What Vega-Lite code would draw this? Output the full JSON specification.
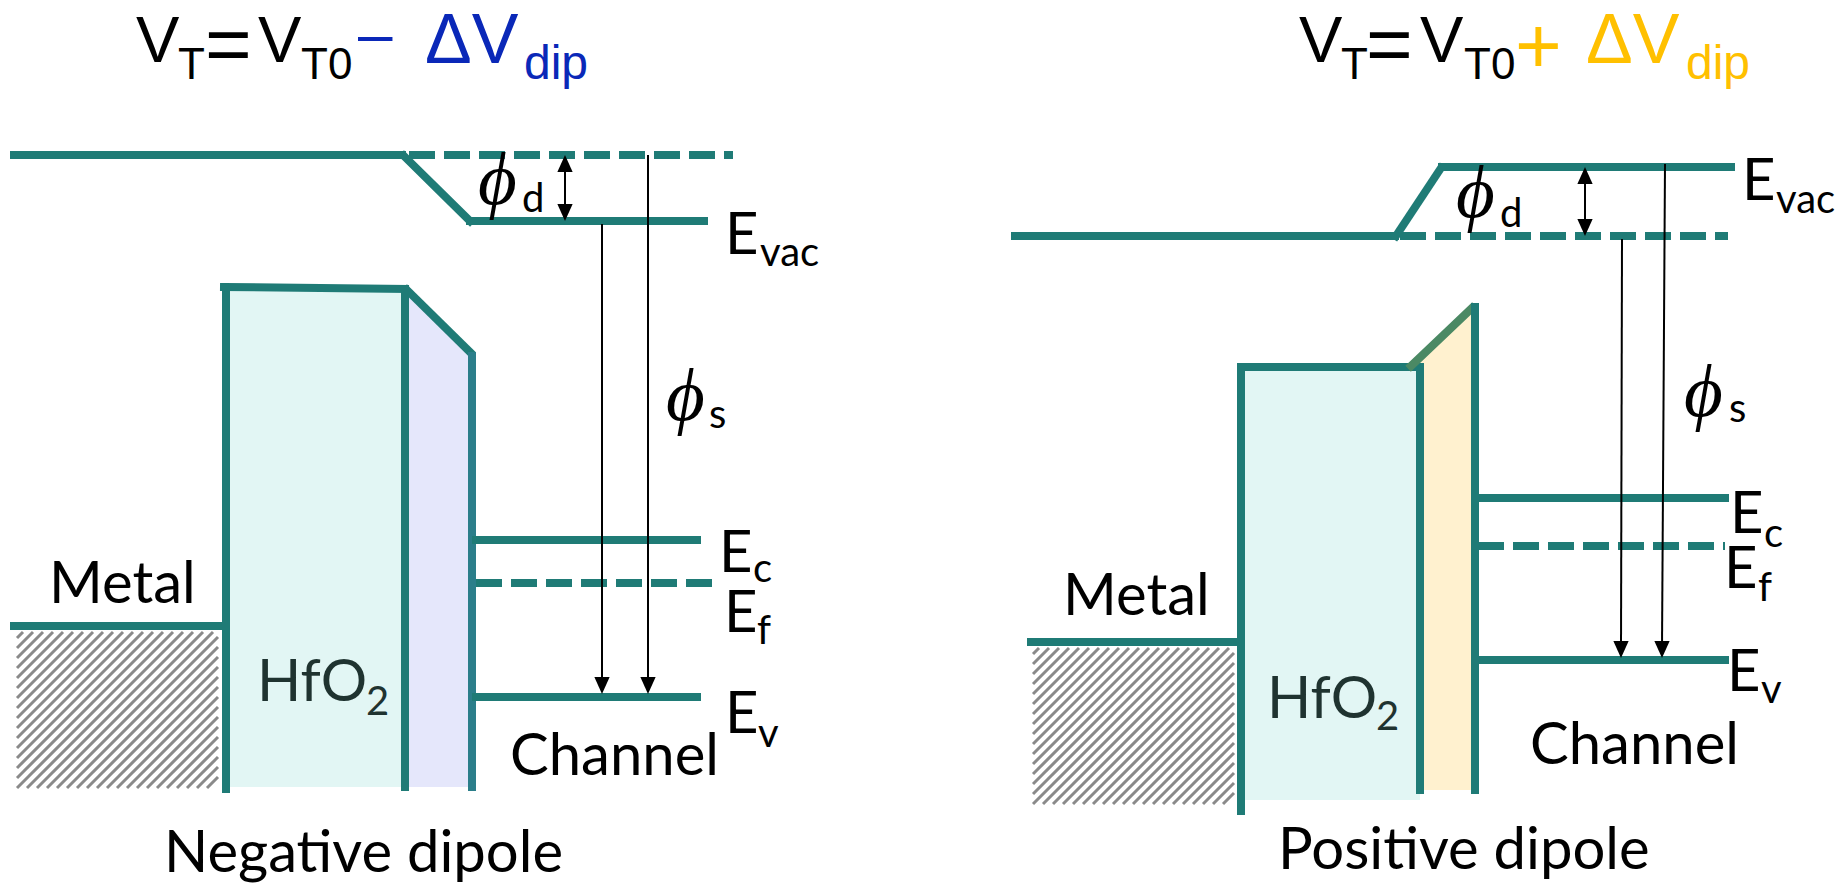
{
  "$schema": "https://vega.github.io/schema/vega-lite/v6.json",
  "width": 1840,
  "height": 884,
  "autosize": {"type": "fit", "contains": "padding"},
  "padding": 0,
  "background": "white",
  "config": {"view": {"stroke": null}},
  "resolve": {"scale": {"color": "independent"}},
  "datasets": {
    "boxes": [
      {"x": 226, "x2": 405, "y": 289, "y2": 787},
      {"x": 1241, "x2": 1420, "y": 367, "y2": 800}
    ],
    "lav": [
      {"x": 405, "y": 291, "y2": 787},
      {"x": 472, "y": 354, "y2": 787}
    ],
    "yel": [
      {"x": 1420, "y": 358, "y2": 790},
      {"x": 1475, "y": 305, "y2": 790}
    ],
    "hatch": [
      {"x": 17, "y": 638, "x2": 23, "y2": 632},
      {"x": 17, "y": 648, "x2": 33, "y2": 632},
      {"x": 17, "y": 658, "x2": 43, "y2": 632},
      {"x": 17, "y": 668, "x2": 53, "y2": 632},
      {"x": 17, "y": 678, "x2": 63, "y2": 632},
      {"x": 17, "y": 688, "x2": 73, "y2": 632},
      {"x": 17, "y": 698, "x2": 83, "y2": 632},
      {"x": 17, "y": 708, "x2": 93, "y2": 632},
      {"x": 17, "y": 718, "x2": 103, "y2": 632},
      {"x": 17, "y": 728, "x2": 113, "y2": 632},
      {"x": 17, "y": 738, "x2": 123, "y2": 632},
      {"x": 17, "y": 748, "x2": 133, "y2": 632},
      {"x": 17, "y": 758, "x2": 143, "y2": 632},
      {"x": 17, "y": 768, "x2": 153, "y2": 632},
      {"x": 17, "y": 778, "x2": 163, "y2": 632},
      {"x": 17, "y": 788, "x2": 173, "y2": 632},
      {"x": 27, "y": 788, "x2": 183, "y2": 632},
      {"x": 37, "y": 788, "x2": 193, "y2": 632},
      {"x": 47, "y": 788, "x2": 203, "y2": 632},
      {"x": 57, "y": 788, "x2": 213, "y2": 632},
      {"x": 67, "y": 788, "x2": 218, "y2": 637},
      {"x": 77, "y": 788, "x2": 218, "y2": 647},
      {"x": 87, "y": 788, "x2": 218, "y2": 657},
      {"x": 97, "y": 788, "x2": 218, "y2": 667},
      {"x": 107, "y": 788, "x2": 218, "y2": 677},
      {"x": 117, "y": 788, "x2": 218, "y2": 687},
      {"x": 127, "y": 788, "x2": 218, "y2": 697},
      {"x": 137, "y": 788, "x2": 218, "y2": 707},
      {"x": 147, "y": 788, "x2": 218, "y2": 717},
      {"x": 157, "y": 788, "x2": 218, "y2": 727},
      {"x": 167, "y": 788, "x2": 218, "y2": 737},
      {"x": 177, "y": 788, "x2": 218, "y2": 747},
      {"x": 187, "y": 788, "x2": 218, "y2": 757},
      {"x": 197, "y": 788, "x2": 218, "y2": 767},
      {"x": 207, "y": 788, "x2": 218, "y2": 777},
      {"x": 1033, "y": 654, "x2": 1039, "y2": 648},
      {"x": 1033, "y": 664, "x2": 1049, "y2": 648},
      {"x": 1033, "y": 674, "x2": 1059, "y2": 648},
      {"x": 1033, "y": 684, "x2": 1069, "y2": 648},
      {"x": 1033, "y": 694, "x2": 1079, "y2": 648},
      {"x": 1033, "y": 704, "x2": 1089, "y2": 648},
      {"x": 1033, "y": 714, "x2": 1099, "y2": 648},
      {"x": 1033, "y": 724, "x2": 1109, "y2": 648},
      {"x": 1033, "y": 734, "x2": 1119, "y2": 648},
      {"x": 1033, "y": 744, "x2": 1129, "y2": 648},
      {"x": 1033, "y": 754, "x2": 1139, "y2": 648},
      {"x": 1033, "y": 764, "x2": 1149, "y2": 648},
      {"x": 1033, "y": 774, "x2": 1159, "y2": 648},
      {"x": 1033, "y": 784, "x2": 1169, "y2": 648},
      {"x": 1033, "y": 794, "x2": 1179, "y2": 648},
      {"x": 1033, "y": 804, "x2": 1189, "y2": 648},
      {"x": 1043, "y": 804, "x2": 1199, "y2": 648},
      {"x": 1053, "y": 804, "x2": 1209, "y2": 648},
      {"x": 1063, "y": 804, "x2": 1219, "y2": 648},
      {"x": 1073, "y": 804, "x2": 1229, "y2": 648},
      {"x": 1083, "y": 804, "x2": 1234, "y2": 653},
      {"x": 1093, "y": 804, "x2": 1234, "y2": 663},
      {"x": 1103, "y": 804, "x2": 1234, "y2": 673},
      {"x": 1113, "y": 804, "x2": 1234, "y2": 683},
      {"x": 1123, "y": 804, "x2": 1234, "y2": 693},
      {"x": 1133, "y": 804, "x2": 1234, "y2": 703},
      {"x": 1143, "y": 804, "x2": 1234, "y2": 713},
      {"x": 1153, "y": 804, "x2": 1234, "y2": 723},
      {"x": 1163, "y": 804, "x2": 1234, "y2": 733},
      {"x": 1173, "y": 804, "x2": 1234, "y2": 743},
      {"x": 1183, "y": 804, "x2": 1234, "y2": 753},
      {"x": 1193, "y": 804, "x2": 1234, "y2": 763},
      {"x": 1203, "y": 804, "x2": 1234, "y2": 773},
      {"x": 1213, "y": 804, "x2": 1234, "y2": 783},
      {"x": 1223, "y": 804, "x2": 1234, "y2": 793}
    ],
    "solid": [
      {"x": 14, "y": 155, "x2": 402, "y2": 155, "part": "band"},
      {"x": 404, "y": 156, "x2": 470, "y2": 221, "part": "band"},
      {"x": 470, "y": 221, "x2": 704, "y2": 221, "part": "band"},
      {"x": 14, "y": 626, "x2": 224, "y2": 626, "part": "band"},
      {"x": 226, "y": 289, "x2": 226, "y2": 789, "part": "band"},
      {"x": 224, "y": 287, "x2": 405, "y2": 289, "part": "band"},
      {"x": 405, "y": 289, "x2": 405, "y2": 787, "part": "band"},
      {"x": 407, "y": 290, "x2": 470, "y2": 352, "part": "band"},
      {"x": 472, "y": 356, "x2": 472, "y2": 787, "part": "edge"},
      {"x": 476, "y": 540, "x2": 697, "y2": 540, "part": "band"},
      {"x": 476, "y": 697, "x2": 697, "y2": 697, "part": "band"},
      {"x": 1015, "y": 236, "x2": 1395, "y2": 236, "part": "band"},
      {"x": 1396, "y": 236, "x2": 1441, "y2": 168, "part": "band"},
      {"x": 1442, "y": 167, "x2": 1731, "y2": 167, "part": "band"},
      {"x": 1031, "y": 642, "x2": 1239, "y2": 642, "part": "band"},
      {"x": 1241, "y": 367, "x2": 1241, "y2": 811, "part": "band"},
      {"x": 1241, "y": 367, "x2": 1420, "y2": 367, "part": "band"},
      {"x": 1420, "y": 367, "x2": 1420, "y2": 790, "part": "band"},
      {"x": 1411, "y": 366, "x2": 1472, "y2": 308, "part": "blend"},
      {"x": 1475, "y": 307, "x2": 1475, "y2": 790, "part": "band"},
      {"x": 1478, "y": 498, "x2": 1725, "y2": 498, "part": "band"},
      {"x": 1478, "y": 660, "x2": 1725, "y2": 660, "part": "band"}
    ],
    "dashed": [
      {"x": 409, "y": 155, "x2": 733, "y2": 155},
      {"x": 476, "y": 583, "x2": 717, "y2": 583},
      {"x": 1400, "y": 236, "x2": 1728, "y2": 236},
      {"x": 1478, "y": 546, "x2": 1725, "y2": 546}
    ],
    "arrows": [
      {"x": 602, "y": 224, "x2": 602, "y2": 684},
      {"x": 648, "y": 155, "x2": 648, "y2": 684},
      {"x": 565, "y": 165, "x2": 565, "y2": 211},
      {"x": 1622, "y": 239, "x2": 1621, "y2": 648},
      {"x": 1665, "y": 164, "x2": 1662, "y2": 648},
      {"x": 1585, "y": 177, "x2": 1585, "y2": 226}
    ],
    "headsDown": [
      {"x": 602, "y": 685.5},
      {"x": 648, "y": 685.5},
      {"x": 565, "y": 212.5},
      {"x": 1621, "y": 649.5},
      {"x": 1662, "y": 649.5},
      {"x": 1585, "y": 227.5}
    ],
    "headsUp": [
      {"x": 565, "y": 163.5},
      {"x": 1585, "y": 175.5}
    ],
    "titleV": [
      {"t": "V", "x": 136, "y": 62},
      {"t": "V", "x": 258, "y": 62},
      {"t": "V", "x": 1299, "y": 62},
      {"t": "V", "x": 1420, "y": 62}
    ],
    "titleT": [
      {"t": "T", "x": 178, "y": 79},
      {"t": "T0", "x": 301, "y": 79},
      {"t": "T", "x": 1341, "y": 79},
      {"t": "T0", "x": 1464, "y": 79}
    ],
    "titleOps": [
      {"t": "=", "x": 205, "y": 71, "k": "base"},
      {"t": "=", "x": 1366, "y": 71, "k": "base"},
      {"t": "+", "x": 1515, "y": 73, "k": "pos"}
    ],
    "titleDash": [
      {"t": "–", "x": 358, "y": 55}
    ],
    "titleDelta": [
      {"t": "ΔV", "x": 425, "y": 63, "k": "neg"},
      {"t": "ΔV", "x": 1586, "y": 63, "k": "pos"}
    ],
    "titleDip": [
      {"t": "dip", "x": 524, "y": 79, "k": "neg"},
      {"t": "dip", "x": 1686, "y": 79, "k": "pos"}
    ],
    "labels": [
      {"t": "Metal", "x": 49, "y": 603},
      {"t": "Channel", "x": 510, "y": 775},
      {"t": "Negative dipole", "x": 164, "y": 872},
      {"t": "E", "x": 725, "y": 254},
      {"t": "E", "x": 719, "y": 572},
      {"t": "E", "x": 724, "y": 632},
      {"t": "E", "x": 725, "y": 733},
      {"t": "Metal", "x": 1063, "y": 615},
      {"t": "Channel", "x": 1530, "y": 764},
      {"t": "Positive dipole", "x": 1278, "y": 869},
      {"t": "E", "x": 1742, "y": 200},
      {"t": "E", "x": 1730, "y": 533},
      {"t": "E", "x": 1724, "y": 588},
      {"t": "E", "x": 1727, "y": 691}
    ],
    "subs": [
      {"t": "vac", "x": 760, "y": 266},
      {"t": "c", "x": 753, "y": 582},
      {"t": "f", "x": 757, "y": 644},
      {"t": "v", "x": 758, "y": 747},
      {"t": "d", "x": 522, "y": 212},
      {"t": "s", "x": 709, "y": 428},
      {"t": "vac", "x": 1776, "y": 213},
      {"t": "c", "x": 1764, "y": 547},
      {"t": "f", "x": 1758, "y": 601},
      {"t": "v", "x": 1761, "y": 703},
      {"t": "d", "x": 1500, "y": 227},
      {"t": "s", "x": 1729, "y": 422}
    ],
    "oxide": [
      {"t": "HfO", "x": 257, "y": 701},
      {"t": "HfO", "x": 1267, "y": 718}
    ],
    "oxideSub": [
      {"t": "2", "x": 366, "y": 715},
      {"t": "2", "x": 1376, "y": 730}
    ],
    "phi": [
      {"t": "ϕ", "x": 478, "y": 204},
      {"t": "ϕ", "x": 1456, "y": 217},
      {"t": "ϕ", "x": 666, "y": 420},
      {"t": "ϕ", "x": 1684, "y": 416}
    ]
  },
  "layer": [
    {
      "data": {"name": "boxes"},
      "mark": {"type": "rect", "color": "#E2F6F4"},
      "encoding": {
        "x": {"field": "x", "type": "quantitative", "scale": {"domain": [0, 1840], "nice": false, "zero": false}, "axis": null},
        "x2": {"field": "x2"},
        "y": {"field": "y", "type": "quantitative", "scale": {"domain": [0, 884], "nice": false, "zero": false, "reverse": true}, "axis": null},
        "y2": {"field": "y2"}
      }
    },
    {
      "data": {"name": "lav"},
      "mark": {"type": "area", "color": "#E5E7FB", "orient": "vertical"},
      "encoding": {
        "x": {"field": "x", "type": "quantitative", "scale": {"domain": [0, 1840], "nice": false, "zero": false}, "axis": null},
        "y": {"field": "y", "type": "quantitative", "scale": {"domain": [0, 884], "nice": false, "zero": false, "reverse": true}, "axis": null},
        "y2": {"field": "y2"}
      }
    },
    {
      "data": {"name": "yel"},
      "mark": {"type": "area", "color": "#FFF1CF", "orient": "vertical"},
      "encoding": {
        "x": {"field": "x", "type": "quantitative", "scale": {"domain": [0, 1840], "nice": false, "zero": false}, "axis": null},
        "y": {"field": "y", "type": "quantitative", "scale": {"domain": [0, 884], "nice": false, "zero": false, "reverse": true}, "axis": null},
        "y2": {"field": "y2"}
      }
    },
    {
      "data": {"name": "hatch"},
      "mark": {"type": "rule", "color": "#8A8A8A", "strokeWidth": 3},
      "encoding": {
        "x": {"field": "x", "type": "quantitative", "scale": {"domain": [0, 1840], "nice": false, "zero": false}, "axis": null},
        "x2": {"field": "x2"},
        "y": {"field": "y", "type": "quantitative", "scale": {"domain": [0, 884], "nice": false, "zero": false, "reverse": true}, "axis": null},
        "y2": {"field": "y2"}
      }
    },
    {
      "data": {"name": "solid"},
      "mark": {"type": "rule", "strokeWidth": 8, "strokeCap": "square"},
      "encoding": {
        "x": {"field": "x", "type": "quantitative", "scale": {"domain": [0, 1840], "nice": false, "zero": false}, "axis": null},
        "x2": {"field": "x2"},
        "y": {"field": "y", "type": "quantitative", "scale": {"domain": [0, 884], "nice": false, "zero": false, "reverse": true}, "axis": null},
        "y2": {"field": "y2"},
        "color": {"field": "part", "type": "nominal", "scale": {"domain": ["band", "edge", "blend"], "range": ["#1F7B76", "#2B7E8A", "#4B8964"]}, "legend": null}
      }
    },
    {
      "data": {"name": "dashed"},
      "mark": {"type": "rule", "strokeWidth": 8, "strokeDash": [26, 9], "color": "#1F7B76"},
      "encoding": {
        "x": {"field": "x", "type": "quantitative", "scale": {"domain": [0, 1840], "nice": false, "zero": false}, "axis": null},
        "x2": {"field": "x2"},
        "y": {"field": "y", "type": "quantitative", "scale": {"domain": [0, 884], "nice": false, "zero": false, "reverse": true}, "axis": null},
        "y2": {"field": "y2"}
      }
    },
    {
      "data": {"name": "arrows"},
      "mark": {"type": "rule", "strokeWidth": 2, "color": "#000000"},
      "encoding": {
        "x": {"field": "x", "type": "quantitative", "scale": {"domain": [0, 1840], "nice": false, "zero": false}, "axis": null},
        "x2": {"field": "x2"},
        "y": {"field": "y", "type": "quantitative", "scale": {"domain": [0, 884], "nice": false, "zero": false, "reverse": true}, "axis": null},
        "y2": {"field": "y2"}
      }
    },
    {
      "data": {"name": "headsDown"},
      "mark": {"type": "point", "shape": "M-0.9,-1L0.9,-1L0,1Z", "size": 289, "filled": true, "opacity": 1, "color": "#000000", "strokeWidth": 0},
      "encoding": {
        "x": {"field": "x", "type": "quantitative", "scale": {"domain": [0, 1840], "nice": false, "zero": false}, "axis": null},
        "y": {"field": "y", "type": "quantitative", "scale": {"domain": [0, 884], "nice": false, "zero": false, "reverse": true}, "axis": null}
      }
    },
    {
      "data": {"name": "headsUp"},
      "mark": {"type": "point", "shape": "M-0.9,1L0.9,1L0,-1Z", "size": 289, "filled": true, "opacity": 1, "color": "#000000", "strokeWidth": 0},
      "encoding": {
        "x": {"field": "x", "type": "quantitative", "scale": {"domain": [0, 1840], "nice": false, "zero": false}, "axis": null},
        "y": {"field": "y", "type": "quantitative", "scale": {"domain": [0, 884], "nice": false, "zero": false, "reverse": true}, "axis": null}
      }
    },
    {
      "data": {"name": "titleV"},
      "mark": {"type": "text", "font": "Liberation Sans", "fontSize": 65, "align": "left", "baseline": "alphabetic", "color": "#000000"},
      "encoding": {
        "x": {"field": "x", "type": "quantitative", "scale": {"domain": [0, 1840], "nice": false, "zero": false}, "axis": null},
        "y": {"field": "y", "type": "quantitative", "scale": {"domain": [0, 884], "nice": false, "zero": false, "reverse": true}, "axis": null},
        "text": {"field": "t"}
      }
    },
    {
      "data": {"name": "titleT"},
      "mark": {"type": "text", "font": "Liberation Sans", "fontSize": 44, "align": "left", "baseline": "alphabetic", "color": "#000000"},
      "encoding": {
        "x": {"field": "x", "type": "quantitative", "scale": {"domain": [0, 1840], "nice": false, "zero": false}, "axis": null},
        "y": {"field": "y", "type": "quantitative", "scale": {"domain": [0, 884], "nice": false, "zero": false, "reverse": true}, "axis": null},
        "text": {"field": "t"}
      }
    },
    {
      "data": {"name": "titleOps"},
      "mark": {"type": "text", "font": "Liberation Sans", "fontSize": 80, "align": "left", "baseline": "alphabetic"},
      "encoding": {
        "x": {"field": "x", "type": "quantitative", "scale": {"domain": [0, 1840], "nice": false, "zero": false}, "axis": null},
        "y": {"field": "y", "type": "quantitative", "scale": {"domain": [0, 884], "nice": false, "zero": false, "reverse": true}, "axis": null},
        "text": {"field": "t"},
        "color": {"field": "k", "type": "nominal", "scale": {"domain": ["base", "pos"], "range": ["#000000", "#FFC000"]}, "legend": null}
      }
    },
    {
      "data": {"name": "titleDash"},
      "mark": {"type": "text", "font": "Liberation Sans", "fontSize": 62, "align": "left", "baseline": "alphabetic", "color": "#0A28B8"},
      "encoding": {
        "x": {"field": "x", "type": "quantitative", "scale": {"domain": [0, 1840], "nice": false, "zero": false}, "axis": null},
        "y": {"field": "y", "type": "quantitative", "scale": {"domain": [0, 884], "nice": false, "zero": false, "reverse": true}, "axis": null},
        "text": {"field": "t"}
      }
    },
    {
      "data": {"name": "titleDelta"},
      "mark": {"type": "text", "font": "Liberation Sans", "fontSize": 70, "align": "left", "baseline": "alphabetic"},
      "encoding": {
        "x": {"field": "x", "type": "quantitative", "scale": {"domain": [0, 1840], "nice": false, "zero": false}, "axis": null},
        "y": {"field": "y", "type": "quantitative", "scale": {"domain": [0, 884], "nice": false, "zero": false, "reverse": true}, "axis": null},
        "text": {"field": "t"},
        "color": {"field": "k", "type": "nominal", "scale": {"domain": ["neg", "pos"], "range": ["#0A28B8", "#FFC000"]}, "legend": null}
      }
    },
    {
      "data": {"name": "titleDip"},
      "mark": {"type": "text", "font": "Liberation Sans", "fontSize": 48, "align": "left", "baseline": "alphabetic"},
      "encoding": {
        "x": {"field": "x", "type": "quantitative", "scale": {"domain": [0, 1840], "nice": false, "zero": false}, "axis": null},
        "y": {"field": "y", "type": "quantitative", "scale": {"domain": [0, 884], "nice": false, "zero": false, "reverse": true}, "axis": null},
        "text": {"field": "t"},
        "color": {"field": "k", "type": "nominal", "scale": {"domain": ["neg", "pos"], "range": ["#0A28B8", "#FFC000"]}, "legend": null}
      }
    },
    {
      "data": {"name": "labels"},
      "mark": {"type": "text", "font": "Lato", "fontSize": 58, "align": "left", "baseline": "alphabetic", "color": "#000000"},
      "encoding": {
        "x": {"field": "x", "type": "quantitative", "scale": {"domain": [0, 1840], "nice": false, "zero": false}, "axis": null},
        "y": {"field": "y", "type": "quantitative", "scale": {"domain": [0, 884], "nice": false, "zero": false, "reverse": true}, "axis": null},
        "text": {"field": "t"}
      }
    },
    {
      "data": {"name": "subs"},
      "mark": {"type": "text", "font": "Lato", "fontSize": 40, "align": "left", "baseline": "alphabetic", "color": "#000000"},
      "encoding": {
        "x": {"field": "x", "type": "quantitative", "scale": {"domain": [0, 1840], "nice": false, "zero": false}, "axis": null},
        "y": {"field": "y", "type": "quantitative", "scale": {"domain": [0, 884], "nice": false, "zero": false, "reverse": true}, "axis": null},
        "text": {"field": "t"}
      }
    },
    {
      "data": {"name": "oxide"},
      "mark": {"type": "text", "font": "Lato", "fontSize": 58, "align": "left", "baseline": "alphabetic", "color": "#1F3330"},
      "encoding": {
        "x": {"field": "x", "type": "quantitative", "scale": {"domain": [0, 1840], "nice": false, "zero": false}, "axis": null},
        "y": {"field": "y", "type": "quantitative", "scale": {"domain": [0, 884], "nice": false, "zero": false, "reverse": true}, "axis": null},
        "text": {"field": "t"}
      }
    },
    {
      "data": {"name": "oxideSub"},
      "mark": {"type": "text", "font": "Lato", "fontSize": 40, "align": "left", "baseline": "alphabetic", "color": "#1F3330"},
      "encoding": {
        "x": {"field": "x", "type": "quantitative", "scale": {"domain": [0, 1840], "nice": false, "zero": false}, "axis": null},
        "y": {"field": "y", "type": "quantitative", "scale": {"domain": [0, 884], "nice": false, "zero": false, "reverse": true}, "axis": null},
        "text": {"field": "t"}
      }
    },
    {
      "data": {"name": "phi"},
      "mark": {"type": "text", "font": "Liberation Serif", "fontStyle": "italic", "fontSize": 75, "align": "left", "baseline": "alphabetic", "color": "#000000"},
      "encoding": {
        "x": {"field": "x", "type": "quantitative", "scale": {"domain": [0, 1840], "nice": false, "zero": false}, "axis": null},
        "y": {"field": "y", "type": "quantitative", "scale": {"domain": [0, 884], "nice": false, "zero": false, "reverse": true}, "axis": null},
        "text": {"field": "t"}
      }
    }
  ]
}
